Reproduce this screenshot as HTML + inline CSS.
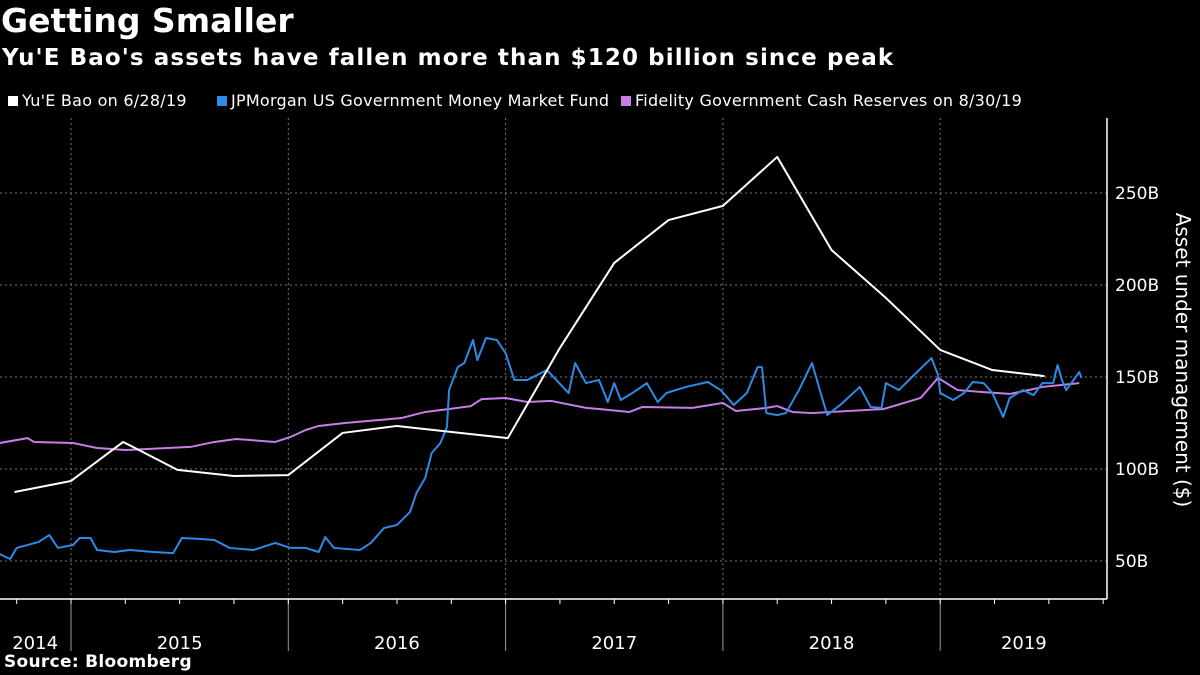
<!DOCTYPE html>
<html><head><meta charset="utf-8"><style>
body{margin:0;background:#000;width:1200px;height:675px;overflow:hidden;font-family:"DejaVu Sans","Liberation Sans",sans-serif;color:#fff}
#t{position:absolute;left:1px;top:1px;font-size:33px;font-weight:bold}
#s{position:absolute;left:2px;top:45px;font-size:23px;font-weight:bold;letter-spacing:1.1px}
#src{position:absolute;left:4px;top:652px;font-size:17px;font-weight:bold;letter-spacing:0.3px}
.lg{position:absolute;top:91px;font-size:16px;letter-spacing:0.25px;display:flex;align-items:center}
.lg i{display:inline-block;width:10px;height:10px;margin-right:4px}
</style></head><body>
<div id="t">Getting Smaller</div>
<div id="s">Yu'E Bao's assets have fallen more than $120 billion since peak</div>
<div class="lg" style="left:8px"><i style="background:#fff"></i>Yu'E Bao on 6/28/19</div>
<div class="lg" style="left:217px"><i style="background:#2d8ae6"></i>JPMorgan US Government Money Market Fund</div>
<div class="lg" style="left:621px"><i style="background:#c87de8"></i>Fidelity Government Cash Reserves on 8/30/19</div>
<svg id="c" width="1200" height="675" style="position:absolute;left:0;top:0"></svg>
<div id="src">Source: Bloomberg</div>
<script>
const yTicks=[50,100,150,200,250];
const yearLabels=["2014","2015","2016","2017","2018","2019"];
const yearStarts=[2015,2016,2017,2018,2019];
const yuebaoDates=[2014.74,2015.0,2015.24,2015.49,2015.75,2016.0,2016.25,2016.5,2017.01,2017.25,2017.5,2017.75,2018.0,2018.25,2018.5,2018.75,2019.0,2019.24,2019.48];
const yuebaoValues=[87.5,93.5,114.7,99.5,96.2,96.7,119.6,123.4,116.8,165.8,212,235.3,243,269.6,219,193,164.7,153.8,150.5];
const jpmDates=[2014.67,2014.72,2014.75,2014.85,2014.90,2014.94,2015.01,2015.04,2015.09,2015.12,2015.20,2015.27,2015.38,2015.47,2015.51,2015.59,2015.66,2015.73,2015.84,2015.94,2016.01,2016.08,2016.14,2016.17,2016.21,2016.33,2016.38,2016.44,2016.50,2016.56,2016.59,2016.63,2016.66,2016.70,2016.73,2016.74,2016.78,2016.81,2016.85,2016.87,2016.91,2016.96,2017.00,2017.04,2017.10,2017.19,2017.29,2017.32,2017.37,2017.43,2017.47,2017.50,2017.53,2017.59,2017.65,2017.70,2017.74,2017.83,2017.93,2017.99,2018.05,2018.11,2018.16,2018.18,2018.20,2018.25,2018.29,2018.35,2018.41,2018.45,2018.48,2018.54,2018.63,2018.68,2018.73,2018.75,2018.81,2018.87,2018.96,2018.99,2019.00,2019.06,2019.11,2019.15,2019.20,2019.24,2019.29,2019.32,2019.38,2019.43,2019.47,2019.52,2019.54,2019.56,2019.58,2019.64,2019.65];
const jpmValues=[53.8,51.1,57.1,60.3,64.1,57.1,58.7,62.5,62.5,56.0,54.9,56.0,54.9,54.3,62.5,62.0,61.4,57.1,56.0,59.8,57.1,57.1,54.9,63.0,57.1,56.0,59.8,67.9,69.6,76.6,87.0,95.1,108.7,114.1,122.8,142.9,155.4,157.6,170.1,159.2,171.2,170.1,163.0,148.4,148.4,153.8,141.3,157.6,146.7,148.4,136.4,146.7,137.5,141.8,146.7,136.4,141.3,144.6,147.3,142.9,134.8,141.3,155.4,155.4,130.4,129.3,130.4,142.9,157.6,141.3,129.3,134.8,144.6,133.7,133.2,146.7,142.9,150.0,160.3,151.1,141.3,137.5,141.3,147.3,146.7,141.3,128.3,138.6,142.9,140.2,146.7,146.7,156.5,148.4,142.9,152.7,149.5];
const fidDates=[2014.67,2014.80,2014.83,2015.01,2015.12,2015.25,2015.55,2015.66,2015.76,2015.94,2016.01,2016.08,2016.14,2016.26,2016.52,2016.63,2016.74,2016.84,2016.89,2017.00,2017.10,2017.21,2017.37,2017.43,2017.57,2017.63,2017.86,2018.00,2018.06,2018.20,2018.25,2018.32,2018.41,2018.74,2018.91,2018.99,2019.08,2019.20,2019.32,2019.43,2019.47,2019.64];
const fidValues=[114.1,116.8,114.7,114.1,111.4,110.3,112.0,114.7,116.3,114.7,117.4,121.2,123.4,125.0,127.7,131.0,132.6,134.2,138.0,138.6,136.4,137.0,133.2,132.6,131.0,133.7,133.2,135.9,131.5,133.2,134.2,131.0,130.4,132.6,138.6,149.5,142.9,141.8,140.8,143.5,144.6,146.7];

const X=t=>71+(t-2015)*217.3, Y=v=>653-v*1.84;
const svg=document.getElementById('c'),NS='http://www.w3.org/2000/svg';
const FF='DejaVu Sans, Liberation Sans, sans-serif';
function mk(tag,at,parent){const e=document.createElementNS(NS,tag);for(const k in at)e.setAttribute(k,at[k]);(parent||svg).appendChild(e);return e;}
yTicks.forEach(v=>{
  const g=mk('line',{x1:0,x2:1107,y1:Y(v),y2:Y(v),stroke:'#777','stroke-dasharray':'2,3','stroke-width':1});
  
  
  const t=mk('text',{x:1115,y:Y(v)+6,fill:'#fff','font-size':17,'font-family':FF});
  t.textContent=v+'B';
  
  
});
yearStarts.forEach(y=>{
  const g=mk('line',{x1:X(y),x2:X(y),y1:118,y2:599,stroke:'#777','stroke-dasharray':'2,3'});
  
  
  const d=mk('line',{x1:X(y),x2:X(y),y1:599,y2:651,stroke:'#999'});
  
  
});
for(let q=2014.75;q<2019.8;q+=0.25){
  const k=mk('line',{x1:X(q),x2:X(q),y1:599,y2:604,stroke:'#fff'});
  
  
}
const ax=mk('line',{x1:0,x2:1107,y1:599,y2:599,stroke:'#fff','stroke-width':1.5});


const ay=mk('line',{x1:1107,x2:1107,y1:118,y2:599,stroke:'#fff','stroke-width':1.5});


yearLabels.forEach((l,i)=>{
  const a=i===0?2014.67:2014+i, b=i===5?2019.77:2015+i;
  const t=mk('text',{x:(X(a)+X(b))/2,y:649,fill:'#fff','font-size':18,'text-anchor':'middle','font-family':FF});
  t.textContent=l;
  
  
});
const yt=mk('text',{x:0,y:0,fill:'#fff','font-size':20,'text-anchor':'middle','font-family':FF,transform:'translate(1176,360) rotate(90)'});
yt.textContent='Asset under management ($)';


function line(d,v,col,name,w){
  const p=mk('polyline',{points:d.map((t,i)=>X(t)+','+Y(v[i])).join(' '),fill:'none',stroke:col,'stroke-width':w,'stroke-linejoin':'round'});
  
  
}
line(fidDates,fidValues,'#c87de8','fidelity-line',2);
line(jpmDates,jpmValues,'#2d8ae6','jpmorgan-line',2);
line(yuebaoDates,yuebaoValues,'#ffffff','yuebao-line',2);
</script>
</body></html>
